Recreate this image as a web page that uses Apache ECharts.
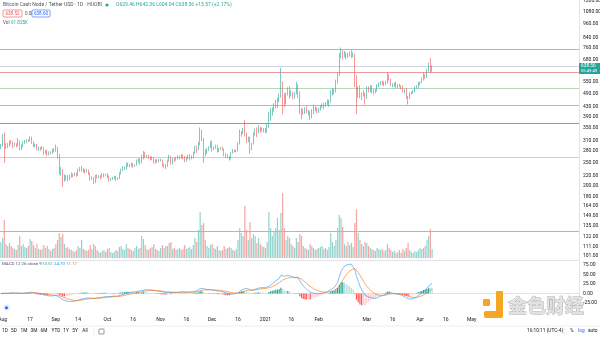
<!DOCTYPE html>
<html><head><meta charset="utf-8">
<script src="https://cdn.jsdelivr.net/npm/echarts@6/dist/echarts.min.js"></script>
<style>html,body{margin:0;padding:0;background:#fff}#c{width:600px;height:337px}</style>
</head><body><div id="c"></div>
<script>
// ---------- DATA ----------
const startDate = '2020-07-31';   // first daily candle
const dayCount = 337;             // days shown on the time axis (incl. empty future space)
// daily candles: [open, close, low, high]
const ohlc = [
[290,295,285,300],[295,318,292,330],[318,290,250,335],[290,298,285,302],[298,295,288,303],[295,306,292,310],[306,304,298,312],[304,296,288,308],[296,300,292,303],[300,296,290,302],
[296,305,293,318],[305,287,282,310],[287,296,283,299],[296,305,290,308],[305,306,300,312],[306,311,302,315],[311,310,305,314],[310,318,307,323],[318,305,300,322],[305,295,290,308],
[295,298,291,301],[298,285,282,300],[285,288,280,292],[288,286,281,291],[286,289,284,294],[289,276,270,291],[276,279,272,283],[279,271,266,283],[271,276,268,279],[276,275,271,279],
[275,283,273,286],[283,281,276,288],[281,290,278,298],[290,268,260,292],[268,230,222,272],[230,233,220,240],[233,212,198,235],[212,220,208,223],[220,218,210,222],[218,213,208,222],
[213,220,211,223],[220,222,216,227],[222,221,217,225],[221,225,219,228],[225,222,218,227],[222,232,220,236],[232,235,229,240],[235,236,230,242],[236,232,227,238],[232,229,225,235],
[229,233,227,236],[233,226,222,234],[226,215,210,228],[215,217,212,219],[217,206,203,218],[206,220,205,222],[220,218,214,223],[218,219,215,221],[219,218,213,221],[218,221,216,226],
[221,223,217,225],[223,222,219,225],[222,220,215,226],[220,212,208,221],[212,214,210,216],[214,216,212,218],[216,218,213,220],[218,212,209,220],[212,215,211,217],[215,225,213,228],
[225,233,223,236],[233,236,230,242],[236,237,233,240],[237,246,234,250],[246,244,240,250],[244,243,239,247],[243,247,240,250],[247,242,238,249],[242,244,240,246],[244,255,243,258],
[255,258,250,262],[258,250,245,260],[250,262,248,270],[262,275,258,280],[275,266,262,277],[266,267,263,270],[267,263,259,270],[263,260,255,266],[260,262,257,266],[262,252,248,264],
[252,256,248,259],[256,255,250,258],[255,255,251,259],[255,257,253,260],[257,245,241,258],[245,245,238,248],[245,242,235,247],[242,255,240,258],[255,265,252,270],[265,248,245,268],
[248,260,246,262],[260,257,252,262],[257,260,255,263],[260,265,258,268],[265,262,258,268],[262,268,260,272],[268,265,258,270],[265,255,251,267],[255,262,252,265],[262,265,258,270],
[265,265,255,272],[265,262,258,268],[262,275,260,278],[275,290,273,295],[290,285,275,295],[285,300,282,306],[300,335,296,352],[335,315,308,345],[315,280,250,318],[280,275,266,285],
[275,285,272,288],[285,290,280,293],[290,302,287,308],[302,285,278,310],[285,290,282,293],[290,295,286,298],[295,280,276,297],[280,285,277,288],[285,290,283,292],[290,285,281,292],
[285,270,266,287],[270,270,262,274],[270,265,261,272],[265,260,255,266],[260,275,258,277],[275,282,273,286],[282,280,276,284],[280,281,277,284],[281,300,279,305],[300,330,298,345],
[330,335,322,340],[335,342,330,350],[342,330,322,378],[330,310,302,335],[310,318,305,322],[318,285,272,322],[285,300,282,303],[300,330,298,335],[330,340,325,348],[340,335,320,352],
[335,352,333,360],[352,345,335,355],[345,346,338,352],[346,343,335,350],[343,342,332,350],[342,352,335,365],[352,395,350,410],[395,405,375,425],[405,415,395,428],[415,430,410,445],
[430,445,422,460],[445,455,425,470],[455,475,450,490],[475,545,470,628],[545,470,400,550],[470,448,430,490],[448,485,440,495],[485,512,480,520],[512,480,465,525],[480,492,475,505],
[492,472,462,498],[472,488,465,495],[488,530,485,548],[530,495,470,535],[495,420,400,500],[420,415,380,425],[415,405,398,422],[405,420,402,428],[420,410,405,432],[410,410,395,418],
[410,390,378,412],[390,415,385,420],[415,420,400,440],[420,425,412,432],[425,410,403,428],[410,420,405,425],[420,430,415,436],[430,440,425,445],[440,435,420,448],[435,445,430,450],
[445,450,438,462],[450,455,430,460],[455,495,448,505],[495,500,480,515],[500,500,485,512],[500,550,495,560],[550,585,540,600],[585,700,580,725],[700,730,690,765],[730,705,680,745],
[705,720,695,740],[720,695,680,730],[695,710,690,725],[710,720,700,735],[720,705,690,745],[705,715,695,730],[715,575,520,720],[575,480,400,585],[480,505,470,525],[505,475,468,530],
[475,485,460,495],[485,490,475,505],[490,470,440,495],[470,520,465,525],[520,500,495,525],[500,520,495,530],[520,500,490,530],[500,505,485,510],[505,500,490,510],[500,530,498,535],
[530,540,520,545],[540,545,532,552],[545,540,530,555],[540,545,525,550],[545,545,530,555],[545,585,540,600],[585,560,555,590],[560,530,525,565],[530,532,520,540],[532,540,522,545],
[540,520,515,548],[520,530,515,535],[530,525,520,538],[525,520,510,530],[520,500,495,530],[500,500,490,510],[500,470,465,515],[470,468,440,478],[468,490,465,495],[490,495,485,500],
[495,500,488,505],[500,520,495,525],[520,525,512,530],[525,540,515,548],[540,545,530,550],[545,560,540,570],[560,585,555,600],[585,575,565,590],[575,610,570,620],[610,640,605,660],
[640,625,600,690],[629.46,638.56,604.04,642.36]
];
// daily volume, thousands
const volumeK = [
112,140,266,98,84,105,84,70,63,56,91,154,84,98,77,70,84,133,119,91,70,
98,63,56,63,91,70,84,63,49,63,70,98,126,175,147,168,98,70,77,63,56,49,42,56,84,
70,126,63,56,49,56,91,63,98,84,56,42,35,49,56,42,63,70,42,35,42,56,49,
77,84,63,56,98,70,63,56,49,70,84,63,70,154,133,91,63,56,70,77,98,63,56,49,70,91,70,84,
84,105,112,63,70,56,63,70,56,63,91,63,70,77,63,91,140,112,196,322,231,245,
126,84,70,91,98,70,63,84,56,49,56,84,63,70,77,70,56,49,63,126,210,175,154,364,196,126,252,
140,168,154,105,140,98,84,77,70,112,322,210,154,182,210,280,196,315,455,
210,126,154,140,98,84,70,140,112,168,154,84,70,63,56,98,84,70,56,63,70,77,84,63,70,56,77,
175,112,84,126,210,301,280,217,98,84,112,91,105,77,245,343,175,
126,98,84,112,105,84,70,63,56,49,70,63,56,63,49,56,98,70,56,42,49,35,42,56,35,63,49,70,105,
56,42,35,49,42,56,70,63,70,84,126,154,203,61.8
];
// price-scale tick labels (log scale)
const priceTicks = [1200,1080,960,840,760,680,550,490,430,390,350,310,280,250,220,200,180,164,149,135,122,111,101];
const priceMin = 97.2, priceMax = 1213;
// drawn horizontal price levels
const levelPrices = [748, 638.56, 603, 511, 438, 364, 262, 129];
const levelColors = ['#b2b5be','#d1d4dc','#ef9a9a','#b7d7b9','#a5c9a8','#5cb5aa','#b3d6f5','#b2b5be'];
// MACD scale ticks
const macdTicks = [75, 50, 25, 0, -25];
// time axis labels
const timeTicks = [
['2020-08-01','Aug'],['2020-08-17','17'],['2020-09-01','Sep'],['2020-09-14','14'],['2020-10-01','Oct'],['2020-10-16','16'],
['2020-11-01','Nov'],['2020-11-16','16'],['2020-12-01','Dec'],['2020-12-16','16'],['2021-01-01','2021'],['2021-01-16','16'],
['2021-02-01','Feb'],['2021-03-01','Mar'],['2021-03-16','16'],['2021-04-01','Apr'],['2021-04-16','16'],['2021-05-01','May']
];
const toolbarItems = ['1D','5D','1M','3M','6M','YTD','1Y','5Y','All'];

// ---------- BUILD ----------
const days = [];
{ const d0 = new Date(startDate + 'T00:00:00Z');
  for (let i = 0; i < dayCount; i++) { const d = new Date(d0.getTime() + i * 86400000); days.push(d.toISOString().slice(0,10)); } }
const tickMap = {}; timeTicks.forEach(t => tickMap[t[0]] = t[1]);

function ema(arr, n) { const k = 2/(n+1); let prev = arr[0]; return arr.map((v,i) => (prev = i === 0 ? v : v*k + prev*(1-k))); }
const closes = ohlc.map(d => d[1]);
const e12 = ema(closes, 12), e26 = ema(closes, 26);
const macd = e12.map((v,i) => v - e26[i]);
const signal = ema(macd, 9);
const hist = macd.map((v,i) => v - signal[i]);
const histData = hist.map((h,i) => {
  const p = i ? hist[i-1] : 0;
  const c = h >= 0 ? (h >= p ? '#26a69a' : '#b2dfdb') : (h < p ? '#ff5252' : '#ffcdd2');
  return { value: h, itemStyle: { color: c } };
});
const volData = volumeK.map((v,i) => ({ value: v, itemStyle: { color: ohlc[i][1] >= ohlc[i][0] ? '#93d3cc' : '#f5a5a3' } }));

const FONT = 'Roboto, sans-serif';
const TXT = '#131722';
const AX = '#e0e3eb';
function txt(x, y, s, fill, size, extra) {
  return Object.assign({ type: 'text', x: x, y: y, silent: true, z: 50,
    style: Object.assign({ text: s, fill: fill || TXT, font: (size || 5) + 'px ' + FONT, textVerticalAlign: 'middle' }, extra || {}) });
}
const xCommon = { type: 'category', data: days, boundaryGap: true, axisTick: { show: false }, splitLine: { show: false } };

const graphics = [
  txt(3, 5, 'Bitcoin Cash Node / Tether USD · 1D · HUOBI', '#50535e'),
  { type: 'circle', shape: { cx: 107, cy: 5, r: 1.6 }, style: { fill: '#26a69a' }, silent: true, z: 50 },
  txt(116, 5, 'O629.46 H642.36 L604.04 C638.56 +13.57 (+2.17%)', '#26a69a'),
  { type: 'rect', shape: { x: 3, y: 10, width: 19, height: 7, r: 1 }, style: { fill: '#fff', stroke: '#ef5350', lineWidth: 0.6 }, silent: true, z: 50 },
  txt(12.5, 13.5, '638.52', '#ef5350', 4.6, { textAlign: 'center' }),
  txt(25, 13.5, '0.08', '#50535e', 4.6),
  { type: 'rect', shape: { x: 32, y: 10, width: 18, height: 7, r: 1 }, style: { fill: '#fff', stroke: '#2962ff', lineWidth: 0.6 }, silent: true, z: 50 },
  txt(41, 13.5, '638.60', '#2962ff', 4.6, { textAlign: 'center' }),
  txt(3, 22.5, 'Vol', '#50535e', 4.6),
  txt(11, 22.5, '61.825K', '#26a69a', 4.6),
  // MACD legend
  txt(2, 264, 'MACD 12 26 close 9', '#50535e', 4.4),
  txt(42, 264, '13.51', '#26a69a', 4.4),
  txt(54, 264, '24.70', '#2196f3', 4.4),
  txt(66, 264, '11.17', '#ff6d00', 4.4),
  // last price badge
  { type: 'rect', shape: { x: 579, y: 63, width: 21, height: 11 }, style: { fill: '#26a69a' }, silent: true, z: 50 },
  txt(581, 66.3, '638.56', '#fff', 4.8),
  txt(581, 71, '05:49:49', '#fff', 4.2),
  // bottom toolbar
  { type: 'line', shape: { x1: 0, y1: 326, x2: 600, y2: 326 }, style: { stroke: AX, lineWidth: 0.6 }, silent: true, z: 50 },
  { type: 'line', shape: { x1: 94, y1: 328, x2: 94, y2: 335 }, style: { stroke: AX, lineWidth: 0.8 }, silent: true, z: 50 },
  { type: 'rect', shape: { x: 99, y: 329, width: 5, height: 5, r: 0.5 }, style: { fill: 'none', stroke: '#50535e', lineWidth: 0.6 }, silent: true, z: 50 },
  txt(527, 331, '16:10:11 (UTC-4)', TXT, 4.8),
  { type: 'line', shape: { x1: 564, y1: 328, x2: 564, y2: 335 }, style: { stroke: AX, lineWidth: 0.8 }, silent: true, z: 50 },
  txt(570, 331, '%', TXT, 4.8),
  txt(578, 331, 'log', '#2962ff', 4.8),
  txt(588, 331, 'auto', TXT, 4.8),
  // TradingView cloud icon
  { type: 'circle', shape: { cx: 6.5, cy: 307.5, r: 3.2 }, style: { fill: '#e3effd' }, silent: true, z: 50 },
  { type: 'circle', shape: { cx: 6.5, cy: 307.8, r: 1.5 }, style: { fill: '#2962ff' }, silent: true, z: 51 },
  // watermark
  { type: 'rect', shape: { x: 483, y: 299, width: 7, height: 7, r: 1 }, style: { fill: '#f5a623' }, silent: true, z: 60 },
  { type: 'rect', shape: { x: 496, y: 291, width: 7, height: 26, r: 1 }, style: { fill: '#f5a623' }, silent: true, z: 60 },
  { type: 'rect', shape: { x: 484, y: 311, width: 19, height: 7, r: 2 }, style: { fill: '#f5a623' }, silent: true, z: 60 },
  { type: 'text', x: 508, y: 306, silent: true, z: 60,
    style: { text: '金色财经', font: 'bold 19px "Noto Sans CJK SC"', fill: '#e2e2e2', stroke: '#a9a9a9', lineWidth: 0.8, textVerticalAlign: 'middle' } }
];
toolbarItems.forEach((s, i) => graphics.push(txt([5,14,24,34,44,56,66,75,85][i], 331, s, TXT, 4.8, { textAlign: 'center' })));

const chart = echarts.init(document.getElementById('c'), null, { renderer: 'canvas' });
chart.setOption({
  animation: false,
  backgroundColor: '#ffffff',
  textStyle: { fontFamily: FONT },
  grid: [
    { left: 0, right: 21, top: 0, height: 260, outerBoundsMode: 'none', containLabel: false },
    { left: 0, right: 21, top: 190, height: 68, outerBoundsMode: 'none', containLabel: false },
    { left: 0, right: 21, top: 262, height: 52, outerBoundsMode: 'none', containLabel: false }
  ],
  xAxis: [
    Object.assign({}, xCommon, { gridIndex: 0, axisLine: { show: true, lineStyle: { color: AX, width: 1 } }, axisLabel: { show: false } }),
    Object.assign({}, xCommon, { gridIndex: 1, show: false }),
    Object.assign({}, xCommon, { gridIndex: 2, axisLine: { show: true, lineStyle: { color: AX, width: 1 } },
      axisLabel: { show: true, interval: (idx, val) => tickMap[val] !== undefined, formatter: val => tickMap[val] || '',
        fontSize: 5, color: TXT, margin: 3.5, fontFamily: FONT } })
  ],
  yAxis: [
    { type: 'value', gridIndex: 0, position: 'right', min: Math.log(priceMin), max: Math.log(priceMax), scale: true,
      axisLine: { show: true, lineStyle: { color: AX } }, axisTick: { show: false }, splitLine: { show: false },
      axisLabel: { customValues: priceTicks.map(Math.log), formatter: v => Math.exp(v).toFixed(2), fontSize: 5, color: TXT, margin: 4, fontFamily: FONT } },
    { type: 'value', gridIndex: 1, min: 0, max: 476, show: false },
    { type: 'value', gridIndex: 2, position: 'right', min: -53, max: 82,
      axisLine: { show: true, lineStyle: { color: AX } }, axisTick: { show: false }, splitLine: { show: false },
      axisLabel: { customValues: macdTicks, formatter: v => v.toFixed(2), fontSize: 5, color: TXT, margin: 4, fontFamily: FONT } }
  ],
  series: [
    { type: 'bar', name: 'Volume', xAxisIndex: 1, yAxisIndex: 1, data: volData, barWidth: 1.2, z: 1, silent: true },
    { type: 'candlestick', name: 'BCH', xAxisIndex: 0, yAxisIndex: 0, z: 5,
      data: ohlc.map(d => d.map(Math.log)), barWidth: 1.1,
      itemStyle: { color: '#26a69a', color0: '#ef5350', borderColor: '#26a69a', borderColor0: '#ef5350', borderWidth: 0.6 },
      markLine: { silent: true, symbol: ['none','none'], label: { show: false },
        data: levelPrices.map((p,i) => ({ yAxis: Math.log(p), lineStyle: { color: levelColors[i], width: 1, type: 'solid' } })) } },
    { type: 'bar', name: 'Histogram', xAxisIndex: 2, yAxisIndex: 2, data: histData, barWidth: 1.2, silent: true },
    { type: 'line', name: 'MACD', xAxisIndex: 2, yAxisIndex: 2, data: macd, showSymbol: false, lineStyle: { color: '#2196f3', width: 0.6 }, silent: true },
    { type: 'line', name: 'Signal', xAxisIndex: 2, yAxisIndex: 2, data: signal, showSymbol: false, lineStyle: { color: '#ff6d00', width: 0.6 }, silent: true }
  ],
  graphic: graphics
});
</script></body></html>
